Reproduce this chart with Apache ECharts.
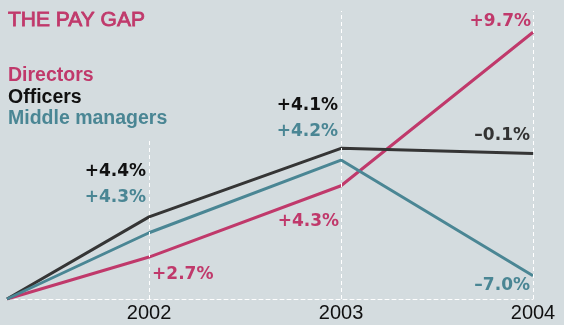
<!DOCTYPE html>
<html>
<head>
<meta charset="utf-8">
<script src="https://cdn.jsdelivr.net/npm/echarts@6/dist/echarts.min.js"></script>
<style>
  html, body { margin: 0; padding: 0; background: #d4dcdf; }
  #chart { width: 564px; height: 325px; }
</style>
</head>
<body>
<div id="chart"></div>
<script>
// Positions along time axis (first point is the common base)
const years = [2001.26, 2002, 2003, 2004];
const tickYears = [2002, 2003, 2004];
// Cumulative index (as drawn) for each group
const directors = [0, 2.33, 6.29, 14.82];
const officers = [0, 4.56, 8.37, 8.09];
const managers = [0, 3.68, 7.72, 1.29];
// Annual change labels (2002..2004)
const directorsLabels = ['+2.7%', '+4.3%', '+9.7%'];
const officersLabels = ['+4.4%', '+4.1%', '\u20130.1%'];
const managersLabels = ['+4.3%', '+4.2%', '\u20137.0%'];
const seriesNames = ['Directors', 'Officers', 'Middle managers'];
const guideTops = [8.78, 16, 16];

const cDir = '#c0396b', cOff = '#353535', cOffText = '#111111', cMan = '#4a8694';
const labelFont = 'DejaVu Sans';

function pts(vals) { return vals.map((v, i) => [years[i], v]); }

// label offsets per point [dx, dy, align, optional colour]
const offOffsets = [[-3, -45.5, 'right'], [-3, -43, 'right'], [-3, -18, 'right', '#333333']];
const manOffsets = [[-3, -35, 'right'], [-3, -28, 'right'], [-3, 9.5, 'right']];
const dirOffsets = [[3, 18, 'left'], [-2, 36, 'right'], [-2, -11, 'right']];

function labelSeries(vals, labels, offsets, color) {
  return {
    type: 'scatter', silent: true, symbolSize: 1,
    itemStyle: { color: 'rgba(0,0,0,0)', opacity: 1 }, z: 5,
    emphasis: { disabled: true },
    data: labels.map((t, i) => ({
      value: [years[i + 1], vals[i + 1]],
      label: {
        show: true, position: 'inside', formatter: t,
        align: offsets[i][2], verticalAlign: 'middle',
        offset: [offsets[i][0], offsets[i][1]], opacity: 1,
        color: offsets[i][3] || color, fontFamily: labelFont, fontWeight: 'bold', fontSize: 17
      }
    }))
  };
}

const chart = echarts.init(document.getElementById('chart'), null, { renderer: 'canvas' });
chart.setOption({
  animation: false,
  backgroundColor: '#d4dcdf',
  title: [
    { text: 'THE PAY GAP', left: 8, top: 10, padding: 0,
      textStyle: { color: cDir, fontFamily: 'Liberation Sans', fontWeight: 'normal', fontSize: 21,
        textBorderColor: cDir, textBorderWidth: 0.8 } },
    { text: '{d|' + seriesNames[0] + '}\n{o|' + seriesNames[1] + '}\n{m|' + seriesNames[2] + '}',
      left: 8, top: 65, padding: 0,
      textStyle: {
        rich: {
          d: { color: cDir, fontFamily: 'Liberation Sans', fontWeight: 'bold', fontSize: 19.5, lineHeight: 21.5 },
          o: { color: cOffText, fontFamily: 'Liberation Sans', fontWeight: 'bold', fontSize: 19.5, lineHeight: 21.5 },
          m: { color: cMan, fontFamily: 'Liberation Sans', fontWeight: 'bold', fontSize: 19.5, lineHeight: 21.5 }
        }
      } }
  ],
  grid: { left: 7, right: 31, top: 11, bottom: 26, containLabel: false },
  xAxis: {
    type: 'value', min: years[0], max: 2004,
    axisLine: { show: true, lineStyle: { color: '#ffffff', type: [4, 3], width: 1 } },
    axisTick: { show: false },
    splitLine: { show: false },
    axisLabel: { customValues: tickYears, formatter: v => String(Math.round(v)),
      color: '#111111', fontFamily: 'Liberation Sans', fontSize: 20, margin: 4 }
  },
  yAxis: {
    type: 'value', min: 0, max: 16,
    show: false, splitLine: { show: false }
  },
  series: [
    {
      name: seriesNames[0], type: 'line', data: pts(directors), showSymbol: false, z: 3,
      lineStyle: { color: cDir, width: 3 }, itemStyle: { color: cDir },
      markLine: {
        silent: true, symbol: 'none', label: { show: false },
        lineStyle: { color: '#ffffff', type: [4, 3], width: 1 },
        data: tickYears.map((y, i) => [{ coord: [y, 0] }, { coord: [y, guideTops[i]] }])
      }
    },
    { name: seriesNames[1], type: 'line', data: pts(officers), showSymbol: false, z: 3,
      lineStyle: { color: cOff, width: 3 }, itemStyle: { color: cOff } },
    { name: seriesNames[2], type: 'line', data: pts(managers), showSymbol: false, z: 3,
      lineStyle: { color: cMan, width: 3 }, itemStyle: { color: cMan } },
    labelSeries(directors, directorsLabels, dirOffsets, cDir),
    labelSeries(officers, officersLabels, offOffsets, cOffText),
    labelSeries(managers, managersLabels, manOffsets, cMan)
  ]
});
</script>
</body>
</html>
